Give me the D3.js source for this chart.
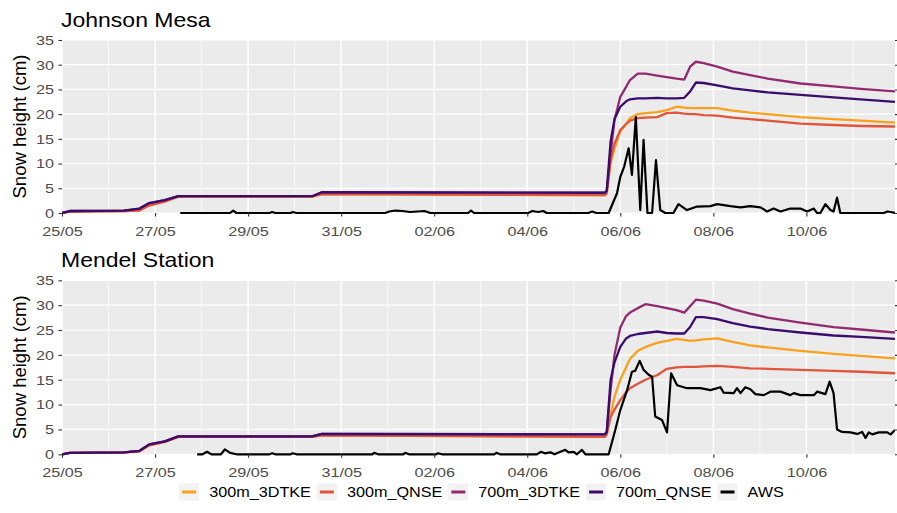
<!DOCTYPE html>
<html>
<head>
<meta charset="utf-8">
<script src="https://cdn.jsdelivr.net/npm/d3@7"></script>
<style>
  body { margin: 0; background: #fff; }
  text { font-family: "Liberation Sans", Arial, sans-serif; }
</style>
</head>
<body>
<svg id="chart"></svg>
<script>
// series names + colours (legend order)
var seriesNames = ["300m_3DTKE", "300m_QNSE", "700m_3DTKE", "700m_QNSE", "AWS"];
var seriesColors = ["#F8A21C", "#E1553A", "#922A70", "#3A0C6C", "#000000"];

var xTickLabels = ["25/05", "27/05", "29/05", "31/05", "02/06", "04/06", "06/06", "08/06", "10/06"];
var yTickValues = [0, 5, 10, 15, 20, 25, 30, 35];

// model output, hours since 25/05 00:00
var modelHours = [0, 4, 32, 40, 45, 53, 60, 129, 134, 280, 281, 283, 285, 288, 291, 293, 297, 301, 307, 312,
    317, 321, 324, 327, 331, 338, 346, 355, 364, 381, 398, 412, 429.7];

// Johnson Mesa
var jm300_3DTKE = [0, 0.3, 0.4, 0.6, 1.7, 2.4, 3.3, 3.3, 3.8, 3.6, 4.0, 10.0, 13.0, 16.5, 18.0, 19.2, 20.0, 20.2, 20.4, 20.8,
    21.5, 21.3, 21.2, 21.2, 21.2, 21.2, 20.7, 20.3, 20.0, 19.4, 19.0, 18.7, 18.3];
var jm300_QNSE = [0, 0.3, 0.4, 0.5, 1.5, 2.3, 3.3, 3.3, 3.8, 3.6, 4.0, 11.0, 14.0, 16.8, 18.0, 18.7, 19.2, 19.3, 19.4, 20.2,
    20.3, 20.1, 20.0, 20.0, 19.8, 19.7, 19.3, 19.0, 18.7, 18.1, 17.8, 17.6, 17.5];
var jm700_3DTKE = [0, 0.4, 0.5, 0.9, 2.0, 2.6, 3.4, 3.4, 4.2, 4.1, 4.5, 12.0, 18.8, 23.5, 25.5, 26.9, 28.2, 28.2, 27.8, 27.5,
    27.2, 27.0, 29.6, 30.6, 30.3, 29.6, 28.6, 27.9, 27.2, 26.2, 25.6, 25.1, 24.6];
var jm700_QNSE = [0, 0.4, 0.5, 0.9, 2.0, 2.6, 3.4, 3.4, 4.2, 4.1, 4.5, 14.5, 19.0, 21.5, 22.6, 23.0, 23.2, 23.2, 23.3, 23.2,
    23.2, 23.3, 24.6, 26.4, 26.3, 25.8, 25.2, 24.8, 24.4, 23.9, 23.4, 23.0, 22.5];

// Mendel Station
var ms300_3DTKE = [0, 0.3, 0.4, 0.6, 1.8, 2.5, 3.5, 3.5, 3.8, 3.5, 4.0, 8.0, 11.6, 15.0, 17.5, 19.2, 20.8, 21.6, 22.4, 22.8,
    23.2, 23.0, 22.8, 22.9, 23.1, 23.3, 22.6, 21.9, 21.5, 20.8, 20.2, 19.8, 19.3];
var ms300_QNSE = [0, 0.3, 0.4, 0.6, 1.8, 2.5, 3.5, 3.5, 3.8, 3.5, 4.0, 7.5, 9.0, 10.9, 12.5, 13.3, 14.2, 15.0, 15.9, 17.2,
    17.5, 17.6, 17.6, 17.6, 17.7, 17.8, 17.6, 17.3, 17.2, 17.0, 16.8, 16.6, 16.3];
var ms700_3DTKE = [0, 0.3, 0.4, 0.7, 2.0, 2.6, 3.6, 3.6, 4.1, 4.0, 4.5, 13.0, 20.0, 25.5, 27.8, 28.5, 29.4, 30.2, 29.8, 29.4,
    29.0, 28.5, 29.8, 31.1, 30.9, 30.3, 29.2, 28.3, 27.5, 26.5, 25.6, 25.1, 24.5];
var ms700_QNSE = [0, 0.3, 0.4, 0.7, 2.0, 2.6, 3.6, 3.6, 4.1, 4.0, 4.5, 15.0, 18.5, 21.6, 23.3, 23.8, 24.2, 24.4, 24.7, 24.4,
    24.3, 24.3, 25.6, 27.6, 27.6, 27.2, 26.4, 25.7, 25.2, 24.5, 23.9, 23.6, 23.2];

// AWS observations
var jmAwsHours = [61, 86.7, 88.3, 90, 107, 108.4, 110, 118, 119, 121, 166.7, 168.8, 172, 175.5, 179.6, 187, 190,
    209.5, 211, 212.6, 240.5, 242.6, 245.7, 248.3, 250, 271.5, 273.5, 275.6, 282, 286.3, 288, 290, 292.3, 294,
    296, 298.3, 300, 302, 304.4, 306.4, 308.6, 311.2, 315.4, 318, 322.4, 327.6, 334.5, 338, 344.8, 350, 355,
    360.3, 363.7, 367.1, 370.6, 375.7, 380.9, 384.4, 387.8, 389.5, 391.2, 393.8, 396.4, 398, 399.8, 401.5,
    424, 425.7, 427.4, 429.7];
var jmAws = [0, 0, 0.5, 0, 0, 0.2, 0, 0, 0.2, 0, 0, 0.3, 0.5, 0.4, 0.2, 0.4, 0,
    0, 0.5, 0, 0, 0.4, 0.2, 0.4, 0, 0, 0.3, 0, 0, 4.0, 7.3, 9.4, 13.1, 7.7,
    19.4, 0.6, 14.8, 0, 0, 10.7, 0.6, 0, 0, 1.8, 0.6, 1.3, 1.4, 1.8, 1.4, 1.15, 1.4,
    1.15, 0.3, 0.9, 0.3, 0.9, 0.9, 0.3, 0.9, 0, 0, 1.8, 0.6, 0.3, 3.1, 0,
    0, 0.3, 0.2, 0];

var msAwsHours = [69.7, 72.5, 74.8, 77, 82, 84, 86.7, 90, 107, 108.4, 110, 118, 119, 121, 160, 161, 163, 176, 177,
    179, 193, 194, 196, 223, 224, 226, 245, 247, 249, 252, 254, 259.6, 261.3, 264, 265.6, 268.2, 270, 282,
    285.4, 288, 291.5, 294, 295.7, 298, 300, 302.6, 304.4, 306, 309.5, 312.1, 314.2, 317.3, 322.4, 329.3,
    334.5, 339.6, 341.3, 346.5, 348.2, 350, 352.5, 355.1, 357.7, 362, 365.4, 370.6, 375.7, 377.5, 380.9,
    387.8, 389.5, 393.8, 396, 398, 399.8, 402.4, 406.7, 410.2, 412.8, 414.5, 416.2, 417.9, 421.4, 425.7,
    427.4, 429.7];
var msAws = [0, 0, 0.5, 0, 0, 1.0, 0.3, 0, 0, 0.2, 0, 0, 0.2, 0, 0, 0.3, 0, 0, 0.3,
    0, 0, 0.2, 0, 0, 0.3, 0, 0, 0.5, 0.2, 0.4, 0, 0.9, 0.4, 0.5, 0, 0.9, 0, 0,
    4.9, 8.9, 12.9, 16.6, 16.8, 18.8, 17.0, 16.0, 15.6, 7.6, 6.9, 4.4, 16.3, 13.9, 13.3, 13.3,
    12.9, 13.5, 12.4, 12.3, 13.3, 12.3, 13.5, 13.1, 12.1, 11.9, 12.6, 12.6, 11.9, 12.3, 11.9,
    11.9, 12.6, 12.1, 14.6, 12.3, 5.0, 4.5, 4.4, 4.1, 4.5, 3.3, 4.4, 4.0, 4.4, 4.4,
    4.0, 4.9];

var width = 897,
    height = 513,
    panelLeft = 62,
    panelRight = 895,
    sx = 1.2;   // horizontal stretch seen in the source picture

var svg = d3.select("#chart")
    .attr("width", width)
    .attr("height", height)
    .style("background", "#fff");

var x = d3.scaleLinear()
    .domain([0, 429.7])
    .range([panelLeft, panelRight]);

var panels = [
    {title: "Johnson Mesa", top: 40, bottom: 213,
        models: [jm300_3DTKE, jm300_QNSE, jm700_3DTKE, jm700_QNSE], awsHours: jmAwsHours, aws: jmAws},
    {title: "Mendel Station", top: 280.3, bottom: 454.3,
        models: [ms300_3DTKE, ms300_QNSE, ms700_3DTKE, ms700_QNSE], awsHours: msAwsHours, aws: msAws}
];

panels.forEach(function (p, pi) {

    var y = d3.scaleLinear().domain([0, 35]).range([p.bottom, p.top]);
    var g = svg.append("g");

    g.append("rect")
        .attr("x", panelLeft).attr("y", p.top)
        .attr("width", panelRight - panelLeft).attr("height", p.bottom - p.top)
        .style("fill", "#EBEBEB");

    // minor vertical grid (odd days)
    g.append("g").selectAll("line")
        .data(d3.range(1, 18, 2))
        .enter().append("line")
        .attr("x1", function (d) { return x(d * 24); })
        .attr("x2", function (d) { return x(d * 24); })
        .attr("y1", p.top).attr("y2", p.bottom)
        .style("stroke", "#fff").style("stroke-width", 0.7);

    // major grid
    g.append("g").selectAll("line")
        .data(xTickLabels)
        .enter().append("line")
        .attr("x1", function (d, i) { return x(i * 48); })
        .attr("x2", function (d, i) { return x(i * 48); })
        .attr("y1", p.top).attr("y2", p.bottom)
        .style("stroke", "#fff").style("stroke-width", 1.5);

    g.append("g").selectAll("line")
        .data(yTickValues)
        .enter().append("line")
        .attr("x1", panelLeft).attr("x2", panelRight)
        .attr("y1", function (d) { return y(d); })
        .attr("y2", function (d) { return y(d); })
        .style("stroke", "#fff").style("stroke-width", 1.2);

    // lines
    var clipId = "clip" + pi;
    g.append("clipPath").attr("id", clipId).append("rect")
        .attr("x", panelLeft).attr("y", p.top - 2)
        .attr("width", panelRight - panelLeft).attr("height", p.bottom - p.top + 4);

    var line = d3.line()
        .x(function (d) { return x(d[0]); })
        .y(function (d) { return y(d[1]); });

    var lg = g.append("g").attr("clip-path", "url(#" + clipId + ")");

    p.models.forEach(function (vals, si) {
        lg.append("path")
            .attr("d", line(modelHours.map(function (h, k) { return [h, vals[k]]; })))
            .style("fill", "none")
            .style("stroke", seriesColors[si])
            .style("stroke-width", 2.3)
            .style("stroke-linejoin", "round");
    });

    lg.append("path")
        .attr("d", line(p.awsHours.map(function (h, k) { return [h, p.aws[k]]; })))
        .style("fill", "none")
        .style("stroke", seriesColors[4])
        .style("stroke-width", 2.2)
        .style("stroke-linejoin", "round");

    // axes
    var yAxis = g.append("g")
        .attr("transform", "translate(" + panelLeft + ",0)")
        .call(d3.axisLeft(y).tickValues(yTickValues).tickSize(3.5).tickPadding(4));
    yAxis.selectAll("text")
        .attr("x", -8 / sx)
        .attr("transform", "scale(" + sx + ",1)");

    var xAxis = g.append("g")
        .attr("transform", "translate(0," + p.bottom + ")")
        .call(d3.axisBottom(x)
            .tickValues(xTickLabels.map(function (d, i) { return i * 48; }))
            .tickFormat(function (d, i) { return xTickLabels[i]; })
            .tickSize(3.5).tickPadding(9.5));
    xAxis.selectAll("text").attr("transform", "scale(" + sx + ",1)");

    var rAxis = g.append("g")
        .attr("transform", "translate(" + panelRight + ",0)")
        .call(d3.axisRight(y).tickValues(yTickValues).tickSize(3).tickFormat(""));

    [yAxis, xAxis, rAxis].forEach(function (a) {
        a.select(".domain").remove();
        a.selectAll("line").style("stroke", "#333").style("stroke-width", 1.1);
        a.selectAll("text")
            .style("font-family", "'Liberation Sans', Arial, sans-serif")
            .style("font-size", "13.5px")
            .style("fill", "#4D4D4D");
    });

    // title
    g.append("text")
        .attr("transform", "translate(" + (panelLeft - 1) + "," + (p.top - 13) + ") scale(1.15,1)")
        .style("font-size", "20px")
        .style("fill", "#000")
        .text(p.title);

    // y label
    g.append("text")
        .attr("transform", "translate(26," + ((p.top + p.bottom) / 2) + ") rotate(-90)")
        .attr("text-anchor", "middle")
        .style("font-size", "18.5px")
        .style("fill", "#000")
        .text("Snow height (cm)");
});

// legend
var legendY = 492,
    keyW = 20,
    keyH = 17,
    legScale = 1.08;

var legend = svg.append("g");
var items = legend.selectAll("g")
    .data(seriesNames)
    .enter().append("g");

items.append("rect")
    .attr("width", keyW).attr("height", keyH)
    .attr("y", legendY - keyH / 2)
    .style("fill", "#F2F2F2");

items.append("line")
    .attr("x1", 3).attr("x2", keyW - 3)
    .attr("y1", legendY).attr("y2", legendY)
    .style("stroke", function (d, i) { return seriesColors[i]; })
    .style("stroke-width", 3);

items.append("text")
    .attr("transform", "translate(" + (keyW + 10) + "," + (legendY + 5.3) + ") scale(" + legScale + ",1)")
    .style("font-size", "15px")
    .style("fill", "#000")
    .text(function (d) { return d; });

var widths = [];
items.selectAll("text").each(function () { widths.push(this.getComputedTextLength() * legScale); });
var total = d3.sum(widths) + seriesNames.length * (keyW + 10) + (seriesNames.length - 1) * 6;
var cursor = 481.5 - total / 2;
items.attr("transform", function (d, i) {
    var t = "translate(" + cursor + ",0)";
    cursor += keyW + 10 + widths[i] + 6;
    return t;
});
</script>
</body>
</html>
